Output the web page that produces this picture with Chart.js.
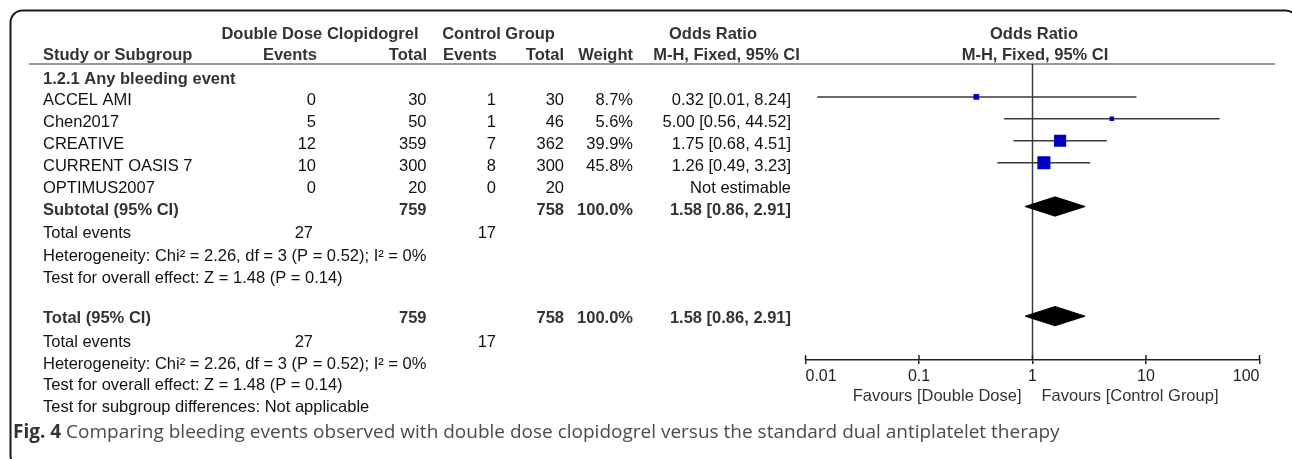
<!DOCTYPE html>
<html><head><meta charset="utf-8">
<script src="https://cdn.jsdelivr.net/npm/chart.js@4.4.1/dist/chart.umd.min.js"></script>
<style>html,body{margin:0;padding:0;background:#fff;}canvas{display:block;}</style>
</head><body>
<canvas id="c" width="1292" height="459"></canvas>
<script>
// ---------- data ----------
const studies   = ["ACCEL AMI", "Chen2017", "CREATIVE", "CURRENT OASIS 7", "OPTIMUS2007"];
const ddEvents  = [0, 5, 12, 10, 0];
const ddTotal   = [30, 50, 359, 300, 20];
const ctlEvents = [1, 1, 7, 8, 0];
const ctlTotal  = [30, 46, 362, 300, 20];
const weights   = [8.7, 5.6, 39.9, 45.8, null];
const orEst     = [0.32, 5.00, 1.75, 1.26, null];
const orLow     = [0.0127, 0.56, 0.68, 0.49, null];
const orHigh    = [8.24, 44.52, 4.51, 3.23, null];

const pooledLabels   = ["Subtotal (95% CI)", "Total (95% CI)"];
const pooledDDTotal  = [759, 759];
const pooledCtlTotal = [758, 758];
const pooledWeight   = [100.0, 100.0];
const pooledEst      = [1.58, 1.58];
const pooledLow      = [0.86, 0.86];
const pooledHigh     = [2.91, 2.91];
const totalEventsDD  = [27, 27];
const totalEventsCtl = [17, 17];
const heterogeneity  = ["Heterogeneity: Chi² = 2.26, df = 3 (P = 0.52); I² = 0%", "Heterogeneity: Chi² = 2.26, df = 3 (P = 0.52); I² = 0%"];
const overallEffect  = ["Test for overall effect: Z = 1.48 (P = 0.14)", "Test for overall effect: Z = 1.48 (P = 0.14)"];
const subgroupText   = "Test for subgroup differences: Not applicable";
const subgroupTitle  = "1.2.1 Any bleeding event";

const tickValues = [0.01, 0.1, 1, 10, 100];
const tickLabels = ["0.01", "0.1", "1", "10", "100"];
const favourLeft  = "Favours [Double Dose]";
const favourRight = "Favours [Control Group]";
const captionBold = "Fig. 4";
const captionText = " Comparing bleeding events observed with double dose clopidogrel versus the standard dual antiplatelet therapy";

// ---------- layout (row indices on the y scale) ----------
const Y_MIN = -1.5, Y_MAX = 12;
const headRows = [-3.05, -2.05];
const studyRows = [0, 1, 2, 3, 4];
const pooledRows = [5, 10];
const pooledTextRows = [5, 9.9];
const eventsRows = [6.05, 11];
const hetRows = [7.1, 12];
const effRows = [8.1, 13];
const subgroupRow = 14;
const DH = 0.44;

const FONT = '"Liberation Sans", Arial, sans-serif';
const FS = 16.5;
const LINE = '#3a3a3a';

const ciSets = [];
studies.forEach((s, i) => {
  if (orEst[i] == null) return;
  ciSets.push({
    type: 'scatter', showLine: true, fill: false,
    data: [{x: orLow[i], y: studyRows[i]}, {x: orHigh[i], y: studyRows[i]}],
    borderColor: LINE, borderWidth: 1.5, pointRadius: 0, order: 3
  });
});
const squarePts = [], squareRad = [];
studies.forEach((s, i) => {
  if (orEst[i] == null) return;
  squarePts.push({x: orEst[i], y: studyRows[i]});
  squareRad.push(1.93 * Math.sqrt(weights[i]) / Math.SQRT2);
});
const squareSet = {
  type: 'scatter', data: squarePts, pointStyle: 'rect', pointRadius: squareRad,
  pointHoverRadius: squareRad, backgroundColor: '#0000c0', borderWidth: 0, order: 0
};
const diamondSets = pooledRows.map((r, k) => ({
  type: 'scatter', showLine: true, fill: 'shape', tension: 0,
  data: [{x: pooledLow[k], y: r}, {x: pooledEst[k], y: r - DH}, {x: pooledHigh[k], y: r},
         {x: pooledEst[k], y: r + DH}, {x: pooledLow[k], y: r}],
  backgroundColor: '#000', borderColor: '#000', borderWidth: 1, pointRadius: 0, order: 1
}));
const nullLine = {
  type: 'scatter', showLine: true, fill: false,
  data: [{x: 1, y: Y_MIN}, {x: 1, y: Y_MAX}],
  borderColor: LINE, borderWidth: 1.5, pointRadius: 0, order: 4
};

const textPlugin = {
  id: 'forestText',
  afterDraw(chart) {
    const ctx = chart.ctx, ys = chart.scales.y, xs = chart.scales.x, ca = chart.chartArea;
    const yOf = r => ys.getPixelForValue(r) + 4;
    const txt = (s, x, r, align, bold, color) => {
      ctx.font = (bold ? 'bold ' : '') + FS + 'px ' + FONT;
      ctx.fillStyle = color || (bold ? '#333' : '#111');
      ctx.textAlign = align; ctx.textBaseline = 'middle';
      ctx.fillText(String(s), x, typeof r === 'number' ? yOf(r) : r.px);
    };
    ctx.save();
    // frame
    ctx.strokeStyle = '#1a1a1a'; ctx.lineWidth = 2;
    ctx.beginPath(); ctx.roundRect(10.5, 10.5, 1287, 457, 12); ctx.stroke();
    // header rule
    ctx.strokeStyle = '#333'; ctx.lineWidth = 1.2;
    ctx.beginPath(); ctx.moveTo(29, ca.top); ctx.lineTo(1275, ca.top); ctx.stroke();
    // upper part of axis ticks
    ctx.strokeStyle = '#222'; ctx.lineWidth = 1.5;
    tickValues.forEach(v => {
      const p = xs.getPixelForValue(v);
      ctx.beginPath(); ctx.moveTo(p, ca.bottom - 5); ctx.lineTo(p, ca.bottom); ctx.stroke();
    });
    // headers
    const h0 = headRows[0], h1 = headRows[1];
    txt("Double Dose Clopidogrel", 320, h0, 'center', true);
    txt("Control Group", 498.5, h0, 'center', true);
    txt("Odds Ratio", 713, h0, 'center', true);
    txt("Odds Ratio", 1034, h0, 'center', true);
    txt("Study or Subgroup", 43, h1, 'left', true);
    txt("Events", 317, h1, 'right', true);
    txt("Total", 427, h1, 'right', true);
    txt("Events", 497, h1, 'right', true);
    txt("Total", 564, h1, 'right', true);
    txt("Weight", 633, h1, 'right', true);
    txt("M-H, Fixed, 95% CI", 726.5, h1, 'center', true);
    txt("M-H, Fixed, 95% CI", 1035, h1, 'center', true);
    txt(subgroupTitle, 43, -1, 'left', true);
    // studies
    studies.forEach((s, i) => {
      const r = studyRows[i];
      txt(s, 43, r, 'left');
      txt(ddEvents[i], 316, r, 'right');
      txt(ddTotal[i], 426.5, r, 'right');
      txt(ctlEvents[i], 496, r, 'right');
      txt(ctlTotal[i], 564, r, 'right');
      if (weights[i] != null) {
        txt(weights[i].toFixed(1) + '%', 633, r, 'right');
        txt(orEst[i].toFixed(2) + ' [' + orLow[i].toFixed(2) + ', ' + orHigh[i].toFixed(2) + ']', 791, r, 'right');
      } else {
        txt('Not estimable', 791, r, 'right');
      }
    });
    // pooled blocks
    pooledLabels.forEach((lab, k) => {
      const r = pooledTextRows[k];
      txt(lab, 43, r, 'left', true);
      txt(pooledDDTotal[k], 426.5, r, 'right', true);
      txt(pooledCtlTotal[k], 564, r, 'right', true);
      txt(pooledWeight[k].toFixed(1) + '%', 633, r, 'right', true);
      txt(pooledEst[k].toFixed(2) + ' [' + pooledLow[k].toFixed(2) + ', ' + pooledHigh[k].toFixed(2) + ']', 791, r, 'right', true);
      txt('Total events', 43, eventsRows[k], 'left');
      txt(totalEventsDD[k], 313, eventsRows[k], 'right');
      txt(totalEventsCtl[k], 496, eventsRows[k], 'right');
      txt(heterogeneity[k], 43, hetRows[k], 'left');
      txt(overallEffect[k], 43, effRows[k], 'left');
    });
    txt(subgroupText, 43, subgroupRow, 'left');
    // favours
    const p1 = xs.getPixelForValue(1);
    txt(favourLeft, p1 - 11, {px: 396}, 'right', false, '#333');
    txt(favourRight, p1 + 9, {px: 396}, 'left', false, '#333');
    // caption
    ctx.textBaseline = 'middle'; ctx.textAlign = 'left';
    ctx.font = 'bold 19px "Open Sans", sans-serif'; ctx.fillStyle = '#333';
    ctx.fillText(captionBold, 13, 433);
    const w = ctx.measureText(captionBold).width;
    ctx.font = '19px "Open Sans", sans-serif'; ctx.fillStyle = '#4a4a4a';
    ctx.fillText(captionText, 13 + w, 433);
    ctx.restore();
  }
};

const chart = new Chart(document.getElementById('c'), {
  type: 'scatter',
  data: { datasets: [squareSet, ...diamondSets, ...ciSets, nullLine] },
  options: {
    responsive: false, animation: false, devicePixelRatio: 1,
    layout: { padding: { left: 805.5, right: 32.5, top: 64, bottom: 69 } },
    plugins: { legend: { display: false }, tooltip: { enabled: false } },
    scales: {
      x: {
        type: 'logarithmic', min: 0.01, max: 100, position: 'bottom',
        afterBuildTicks: s => { s.ticks = tickValues.map(v => ({ value: v })); },
        afterFit: s => { s.height = 30; },
        ticks: {
          align: 'inner', autoSkip: false, maxRotation: 0, padding: 3, color: '#222',
          font: { family: FONT, size: 16 },
          callback: v => { const i = tickValues.indexOf(v); return i >= 0 ? tickLabels[i] : ''; }
        },
        grid: { drawOnChartArea: false, drawTicks: true, tickLength: 4, color: '#222', lineWidth: 1.5 },
        border: { display: true, color: '#222', width: 1.5 }
      },
      y: { type: 'linear', min: Y_MIN, max: Y_MAX, reverse: true, display: false }
    }
  },
  plugins: [textPlugin]
});
</script>
</body></html>
